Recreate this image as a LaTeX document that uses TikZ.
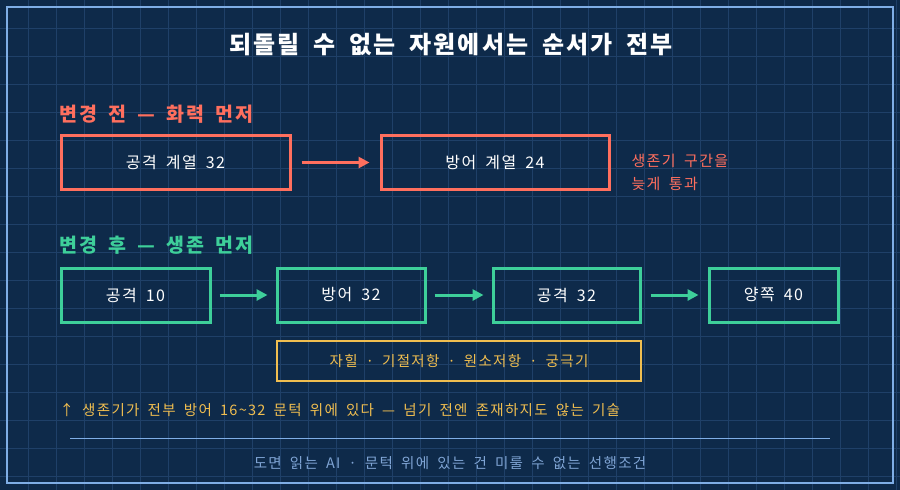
\documentclass[tikz,border=0pt]{standalone}
\usepackage{fontspec}
\setmainfont{Noto Sans CJK KR}[LetterSpace=9,WordSpace=1.8]
\usetikzlibrary{arrows.meta}
\definecolor{bg}{HTML}{0E2A4A}
\definecolor{gridc}{HTML}{1F4068}
\definecolor{salmon}{HTML}{FF6F5E}
\definecolor{grn}{HTML}{3ECF9A}
\definecolor{yel}{HTML}{F0BE50}
\definecolor{lb}{HTML}{7FAEE6}
\definecolor{foot}{HTML}{7FA4D4}
\begin{document}
\begin{tikzpicture}[x=1pt,y=-1pt,
  box/.style={draw,line width=3pt,minimum height=54pt,text=white,font=\fontsize{16}{19}\selectfont,inner sep=0pt},
  arr/.style={-{Triangle[length=11pt,width=11pt]},line width=3pt},
  hd/.style={anchor=west,font=\fontsize{19.5}{22}\bfseries\selectfont}]
\fill[bg] (0,0) rectangle (900,490);
\useasboundingbox (0,0) rectangle (900,490);
\foreach \x in {28,56,...,899} \draw[gridc,line width=0.8pt] (\x,0)--(\x,490);
\foreach \y in {28,56,...,489} \draw[gridc,line width=0.8pt] (0,\y)--(900,\y);
\draw[lb,line width=2pt] (7,7) rectangle (893,483);
\node[text=white,font=\fontsize{24}{28}\bfseries\selectfont] (title) at (451,45) {되돌릴 수 없는 자원에서는 순서가 전부};
\node[hd,text=salmon] (h1) at (56,114) {변경 전 — 화력 먼저};
\node[box,draw=salmon,minimum width=229pt] (a1) at (175.5,162.5) {공격 계열 32};
\node[box,draw=salmon,minimum width=228pt] (a2) at (495,162.5) {방어 계열 24};
\draw[arr,salmon] (a1.east)+(10,0) coordinate (s1) -- ([xshift=-10pt]a2.west);
\node[anchor=west,text=salmon,font=\fontsize{15}{23}\selectfont,align=left] (n1) at (628,172) {생존기 구간을\\늦게 통과};
\node[hd,text=grn] (h2) at (56,245) {변경 후 — 생존 먼저};
\node[box,draw=grn,minimum width=149pt] (b1) at (135.5,295) {공격 10};
\node[box,draw=grn,minimum width=148pt] (b2) at (351,295) {방어 32};
\node[box,draw=grn,minimum width=147pt] (b3) at (566.5,295) {공격 32};
\node[box,draw=grn,minimum width=129pt] (b4) at (773.5,295) {양쪽 40};
\draw[arr,grn] ([xshift=8pt]b1.east) -- ([xshift=-8pt]b2.west);
\draw[arr,grn] ([xshift=8pt]b2.east) -- ([xshift=-8pt]b3.west);
\draw[arr,grn] ([xshift=9pt]b3.east) -- ([xshift=-9pt]b4.west);
\node[draw=yel,line width=2pt,minimum width=364pt,minimum height=40pt,text=yel,font=\fontsize{14.5}{17}\selectfont] (y) at (459,361) {자힐 · 기절저항 · 원소저항 · 궁극기};
\node[anchor=west,text=yel,font=\fontsize{14.5}{17}\selectfont] (note) at (56,410) {↑ 생존기가 전부 방어 16\textasciitilde32 문턱 위에 있다 — 넘기 전엔 존재하지도 않는 기술};
\coordinate (l1) at (70,438); \coordinate (l2) at (830,438);
\draw[lb,line width=1pt] (l1)--(l2);
\node[text=foot,font=\fontsize{14.5}{17}\selectfont] (ft) at (450,463) {도면 읽는 AI · 문턱 위에 있는 건 미룰 수 없는 선행조건};
\end{tikzpicture}
\end{document}
